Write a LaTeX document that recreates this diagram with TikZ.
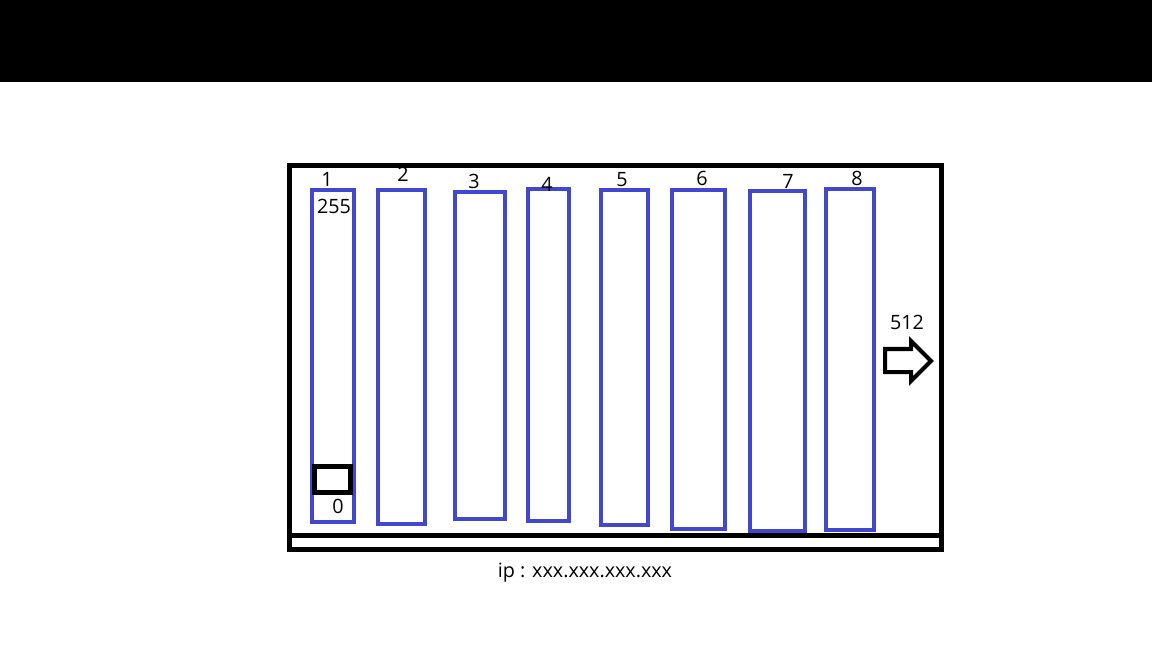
\documentclass[tikz,border=0pt]{standalone}
\usepackage{fontspec}
\setmainfont{Open Sans}
\usepackage{tikz}
\usetikzlibrary{positioning}
\definecolor{SlotBlue}{RGB}{65, 72, 205}
\tikzset{
  slot/.style={draw=SlotBlue, line width=3pt},
  frame/.style={draw=black, line width=3.75pt},
  tag/.style={font=\fontsize{14.8}{17}\selectfont, inner sep=0pt}
}

\begin{document}
\begin{tikzpicture}[x=0.75pt, y=-0.75pt]
  \useasboundingbox (0,0) rectangle (1152,648);
  \fill[black] (0,0) rectangle (1152,82);

  % chassis
  \draw[frame] (289,166) rectangle (941,549);
  \draw[frame] (289,535) -- (941,535);

  % slots
  \foreach \i/\xa/\ya/\xb/\yb in {1/312/190/354/522, 2/378/190/425/524, 3/455/192/505/519,
      4/528/189/569/521, 5/601/190/648/525, 6/672/190/725/529, 7/750/191/805/531, 8/826/189/874/530} {
    \draw[slot] (\xa,\ya) rectangle (\xb,\yb);
  }

  % slot numbers
  \node[tag] (n1) at (327,179) {1};
  \node[tag] (n2) at (403,174) {2};
  \node[tag] (n3) at (474,181) {3};
  \node[tag] (n4) at (547,184) {4};
  \node[tag] (n5) at (622,180) {5};
  \node[tag] (n6) at (702,178) {6};
  \node[tag] (n7) at (788,181) {7};
  \node[tag] (n8) at (857,178) {8};

  \node[tag] (top) at (334,206) {255};
  \node[tag] (bottom) at (338,506) {0};
  \draw[frame] (314,466) rectangle (350,492);

  % output arrow
  \node[tag] (out) at (907,322) {512};
  \draw[black, line width=3pt, miter limit=4, fill=white]
    (885,349) -- (911,349) -- (911,341) -- (931,361) -- (911,381) -- (911,372) -- (885,372) -- cycle;

  \node[tag, anchor=base] (ip) at (585,577) {ip : xxx.xxx.xxx.xxx};
\end{tikzpicture}
\end{document}
